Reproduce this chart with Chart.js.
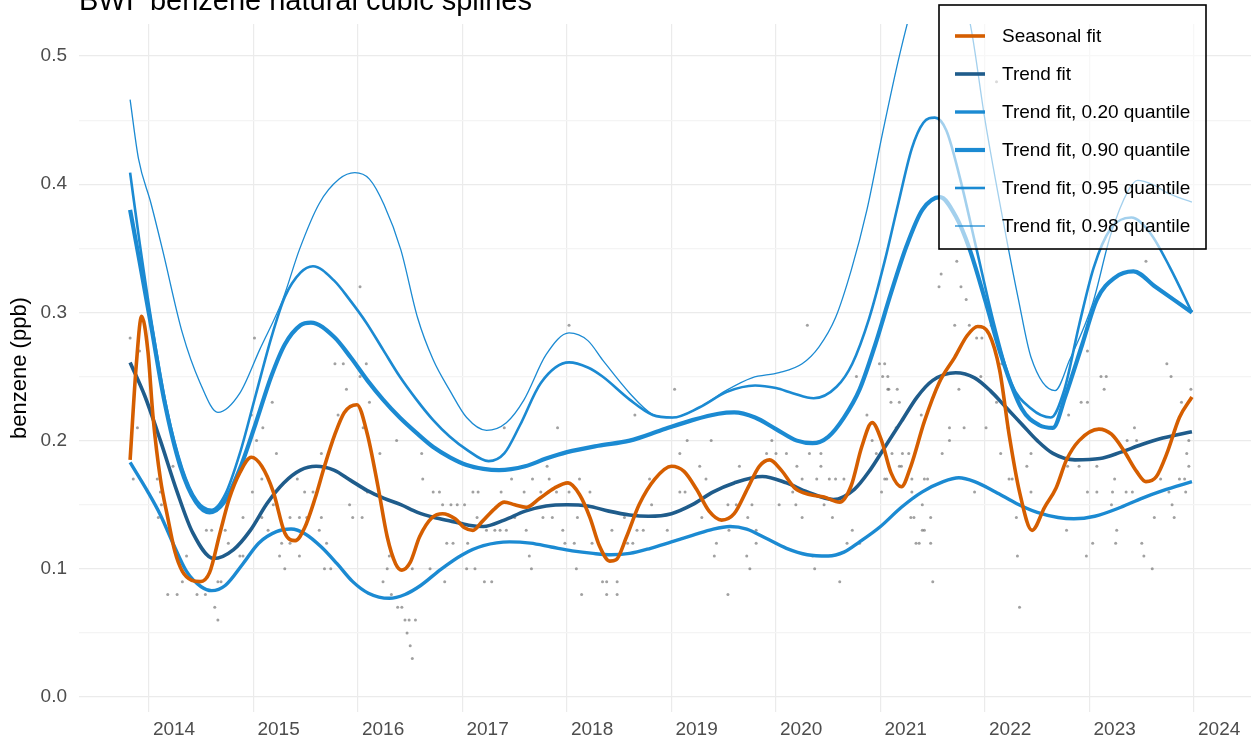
<!DOCTYPE html>
<html>
<head>
<meta charset="utf-8">
<title>BWI benzene natural cubic splines</title>
<script src="https://cdn.jsdelivr.net/npm/chart.js@4.4.1/dist/chart.umd.min.js"></script>
<style>
  html, body { margin: 0; padding: 0; background: #fff; }
  #wrap { position: relative; width: 1255px; height: 744px; }
</style>
</head>
<body>
<div id="wrap"><canvas id="chart"></canvas></div>
<script>
// BWI benzene - seasonal / trend natural cubic spline fits

const chartTitle = 'BWI  benzene natural cubic splines';
const yAxisTitle = 'benzene (ppb)';

const yearTicks = [2014, 2015, 2016, 2017, 2018, 2019, 2020, 2021, 2022, 2023, 2024];
const yTicks = [0.0, 0.05, 0.1, 0.15, 0.2, 0.25, 0.3, 0.35, 0.4, 0.45, 0.5];

// [decimal year, ppb]
const seasonalFit = [[2013.82,0.185],[2013.88,0.26],[2013.93,0.297],[2013.99,0.27],[2014.04,0.218],[2014.11,0.17],[2014.18,0.14],[2014.25,0.113],[2014.32,0.098],[2014.41,0.091],[2014.49,0.09],[2014.58,0.097],[2014.68,0.128],[2014.77,0.155],[2014.87,0.175],[2014.98,0.187],[2015.08,0.18],[2015.19,0.16],[2015.30,0.128],[2015.40,0.122],[2015.49,0.132],[2015.59,0.155],[2015.68,0.18],[2015.78,0.205],[2015.87,0.222],[2015.99,0.228],[2016.09,0.205],[2016.19,0.165],[2016.28,0.125],[2016.36,0.104],[2016.42,0.099],[2016.50,0.105],[2016.59,0.125],[2016.71,0.14],[2016.81,0.143],[2016.93,0.139],[2017.02,0.132],[2017.10,0.13],[2017.19,0.137],[2017.31,0.147],[2017.40,0.152],[2017.50,0.15],[2017.61,0.148],[2017.74,0.155],[2017.88,0.163],[2018.01,0.167],[2018.12,0.158],[2018.22,0.14],[2018.31,0.118],[2018.41,0.106],[2018.47,0.107],[2018.57,0.125],[2018.69,0.15],[2018.84,0.17],[2019.00,0.18],[2019.12,0.176],[2019.24,0.162],[2019.36,0.145],[2019.48,0.138],[2019.60,0.143],[2019.73,0.163],[2019.84,0.18],[2019.94,0.185],[2020.05,0.177],[2020.18,0.163],[2020.32,0.158],[2020.46,0.156],[2020.61,0.152],[2020.72,0.165],[2020.82,0.195],[2020.92,0.214],[2021.01,0.2],[2021.10,0.175],[2021.20,0.164],[2021.29,0.18],[2021.42,0.215],[2021.56,0.245],[2021.71,0.265],[2021.83,0.282],[2021.93,0.289],[2022.04,0.283],[2022.14,0.255],[2022.23,0.205],[2022.33,0.16],[2022.45,0.13],[2022.57,0.148],[2022.68,0.163],[2022.78,0.185],[2022.90,0.2],[2023.09,0.209],[2023.21,0.205],[2023.33,0.192],[2023.45,0.176],[2023.54,0.168],[2023.64,0.172],[2023.74,0.19],[2023.86,0.218],[2023.98,0.234]];

const trendFit = [[2013.82,0.261],[2013.96,0.235],[2014.11,0.2],[2014.27,0.16],[2014.42,0.128],[2014.62,0.108],[2014.81,0.115],[2014.97,0.13],[2015.13,0.151],[2015.29,0.167],[2015.45,0.177],[2015.60,0.18],[2015.77,0.177],[2015.93,0.169],[2016.09,0.161],[2016.25,0.155],[2016.41,0.15],[2016.57,0.144],[2016.73,0.14],[2016.90,0.137],[2017.06,0.134],[2017.20,0.133],[2017.40,0.138],[2017.60,0.145],[2017.80,0.149],[2018.00,0.15],[2018.20,0.149],[2018.40,0.145],[2018.60,0.142],[2018.78,0.141],[2019.00,0.143],[2019.20,0.15],[2019.40,0.16],[2019.60,0.167],[2019.87,0.172],[2020.10,0.167],[2020.30,0.16],[2020.55,0.154],[2020.75,0.162],[2020.90,0.177],[2021.05,0.196],[2021.20,0.215],[2021.35,0.234],[2021.50,0.247],[2021.72,0.253],[2021.90,0.249],[2022.05,0.239],[2022.20,0.226],[2022.35,0.213],[2022.50,0.2],[2022.65,0.19],[2022.86,0.185],[2023.10,0.186],[2023.30,0.191],[2023.50,0.197],[2023.70,0.202],[2023.98,0.207]];

const q20Fit = [[2013.82,0.183],[2013.99,0.16],[2014.11,0.142],[2014.23,0.12],[2014.36,0.098],[2014.50,0.086],[2014.60,0.083],[2014.73,0.087],[2014.90,0.104],[2015.05,0.12],[2015.22,0.129],[2015.36,0.131],[2015.50,0.127],[2015.65,0.117],[2015.80,0.104],[2015.95,0.09],[2016.10,0.081],[2016.30,0.077],[2016.45,0.08],[2016.60,0.087],[2016.80,0.1],[2017.00,0.111],[2017.20,0.118],[2017.45,0.121],[2017.65,0.12],[2017.85,0.117],[2018.05,0.114],[2018.25,0.112],[2018.42,0.111],[2018.60,0.112],[2018.80,0.116],[2019.00,0.121],[2019.20,0.126],[2019.40,0.131],[2019.56,0.133],[2019.72,0.131],[2019.90,0.124],[2020.10,0.116],[2020.30,0.111],[2020.50,0.11],[2020.65,0.113],[2020.80,0.121],[2021.00,0.133],[2021.20,0.148],[2021.40,0.16],[2021.60,0.168],[2021.75,0.171],[2021.90,0.168],[2022.10,0.16],[2022.30,0.151],[2022.50,0.144],[2022.70,0.14],[2022.85,0.139],[2023.05,0.141],[2023.30,0.148],[2023.50,0.155],[2023.70,0.161],[2023.98,0.168]];

const q90Fit = [[2013.82,0.38],[2013.91,0.34],[2014.02,0.29],[2014.15,0.23],[2014.30,0.18],[2014.45,0.152],[2014.58,0.144],[2014.72,0.152],[2014.87,0.178],[2015.02,0.213],[2015.17,0.25],[2015.30,0.275],[2015.45,0.29],[2015.55,0.292],[2015.77,0.281],[2015.93,0.265],[2016.09,0.247],[2016.24,0.232],[2016.40,0.218],[2016.56,0.206],[2016.72,0.195],[2016.88,0.187],[2017.04,0.181],[2017.20,0.178],[2017.35,0.177],[2017.60,0.18],[2017.80,0.186],[2018.00,0.191],[2018.30,0.196],[2018.60,0.2],[2018.90,0.208],[2019.20,0.216],[2019.45,0.221],[2019.60,0.222],[2019.80,0.218],[2020.00,0.209],[2020.20,0.2],[2020.35,0.198],[2020.50,0.203],[2020.65,0.218],[2020.80,0.24],[2020.95,0.275],[2021.10,0.315],[2021.25,0.352],[2021.40,0.38],[2021.57,0.39],[2021.72,0.375],[2021.85,0.35],[2022.00,0.31],[2022.16,0.265],[2022.35,0.225],[2022.52,0.212],[2022.65,0.21],[2022.77,0.235],[2022.93,0.275],[2023.07,0.31],[2023.24,0.327],[2023.42,0.332],[2023.63,0.32],[2023.98,0.30]];

const q95Fit = [[2013.82,0.409],[2013.91,0.355],[2014.04,0.285],[2014.17,0.225],[2014.32,0.178],[2014.46,0.153],[2014.60,0.146],[2014.73,0.158],[2014.87,0.19],[2015.02,0.235],[2015.17,0.28],[2015.30,0.312],[2015.45,0.331],[2015.57,0.336],[2015.77,0.325],[2015.92,0.31],[2016.08,0.292],[2016.24,0.271],[2016.40,0.25],[2016.56,0.232],[2016.72,0.216],[2016.88,0.203],[2017.04,0.193],[2017.25,0.184],[2017.40,0.19],[2017.55,0.212],[2017.75,0.245],[2018.02,0.261],[2018.20,0.257],[2018.34,0.25],[2018.60,0.232],[2018.82,0.22],[2019.01,0.218],[2019.27,0.226],[2019.53,0.238],[2019.80,0.243],[2020.00,0.241],[2020.16,0.237],[2020.36,0.233],[2020.58,0.242],[2020.73,0.26],[2020.89,0.295],[2021.04,0.34],[2021.17,0.385],[2021.30,0.428],[2021.41,0.448],[2021.52,0.452],[2021.63,0.442],[2021.76,0.405],[2021.92,0.349],[2022.09,0.29],[2022.25,0.245],[2022.44,0.225],[2022.63,0.218],[2022.76,0.24],[2022.90,0.29],[2023.04,0.335],[2023.20,0.365],[2023.40,0.374],[2023.58,0.362],[2023.77,0.335],[2023.98,0.30]];

const q98Fit = [[2013.82,0.466],[2013.90,0.42],[2014.02,0.385],[2014.13,0.349],[2014.32,0.284],[2014.49,0.245],[2014.66,0.222],[2014.87,0.237],[2015.06,0.271],[2015.28,0.31],[2015.44,0.349],[2015.63,0.385],[2015.82,0.404],[2015.97,0.409],[2016.11,0.404],[2016.25,0.384],[2016.41,0.349],[2016.57,0.296],[2016.72,0.263],[2016.88,0.239],[2017.04,0.218],[2017.23,0.208],[2017.42,0.214],[2017.59,0.232],[2017.80,0.267],[2018.02,0.284],[2018.20,0.278],[2018.34,0.263],[2018.60,0.237],[2018.81,0.221],[2019.01,0.218],[2019.27,0.226],[2019.52,0.239],[2019.77,0.249],[2020.03,0.253],[2020.25,0.26],[2020.41,0.273],[2020.57,0.296],[2020.72,0.333],[2020.87,0.38],[2021.02,0.44],[2021.18,0.5],[2021.34,0.55],[2021.52,0.59],[2021.70,0.58],[2021.87,0.52],[2022.00,0.45],[2022.20,0.36],[2022.32,0.31],[2022.44,0.265],[2022.67,0.239],[2022.81,0.263],[2023.03,0.307],[2023.20,0.36],[2023.37,0.395],[2023.46,0.403],[2023.60,0.40],[2023.75,0.393],[2023.98,0.386]];

// individual samples (grey dots)
const samples = [
  [2013.82,0.28],[2013.91,0.27],[2013.89,0.21],[2013.85,0.17],[2014.01,0.25],[2014.08,0.17],[2014.11,0.16],[2014.12,0.15],[2014.09,0.14],
  [2014.23,0.18],[2014.32,0.09],[2014.18,0.08],[2014.27,0.08],[2014.36,0.11],[2014.46,0.08],[2014.54,0.08],[2014.55,0.13],[2014.60,0.13],[2014.63,0.07],
  [2014.66,0.06],[2014.66,0.09],[2014.69,0.09],[2014.73,0.13],[2014.76,0.12],[2014.87,0.11],[2014.90,0.11],[2014.90,0.14],[2015.01,0.28],[2015.03,0.20],
  [2014.98,0.22],[2015.09,0.21],[2015.08,0.17],[2014.99,0.16],[2015.08,0.14],[2015.18,0.23],[2015.19,0.15],[2015.14,0.13],[2015.22,0.19],[2015.27,0.12],
  [2015.35,0.12],[2015.25,0.11],[2015.30,0.10],[2015.42,0.17],[2015.35,0.14],[2015.44,0.14],[2015.51,0.14],[2015.44,0.11],[2015.49,0.16],[2015.57,0.16],
  [2015.63,0.13],[2015.65,0.19],[2015.65,0.14],[2015.70,0.12],[2015.68,0.10],[2015.74,0.10],[2015.78,0.26],[2015.86,0.26],[2015.81,0.22],[2015.89,0.24],
  [2015.92,0.15],[2015.95,0.14],[2016.04,0.14],[2016.02,0.25],[2016.02,0.32],[2016.05,0.21],[2016.08,0.26],[2016.09,0.16],[2016.11,0.23],[2016.21,0.19],
  [2016.24,0.09],[2016.28,0.10],[2016.30,0.11],[2016.32,0.08],[2016.37,0.20],[2016.38,0.07],[2016.42,0.07],[2016.45,0.06],[2016.49,0.06],[2016.55,0.06],
  [2016.47,0.05],[2016.50,0.04],[2016.52,0.03],[2016.52,0.10],[2016.61,0.19],[2016.62,0.17],[2016.69,0.10],[2016.72,0.16],[2016.78,0.16],[2016.83,0.09],
  [2016.81,0.15],[2016.89,0.15],[2016.95,0.15],[2017.02,0.15],[2016.85,0.12],[2016.91,0.12],[2017.04,0.10],[2017.05,0.12],[2017.12,0.10],[2017.10,0.16],
  [2017.15,0.16],[2017.14,0.14],[2017.21,0.09],[2017.28,0.09],[2017.23,0.13],[2017.31,0.13],[2017.36,0.13],[2017.37,0.16],[2017.40,0.21],[2017.42,0.13],
  [2017.47,0.17],[2017.50,0.14],
  [2018.02,0.29],[2017.91,0.21],[2017.81,0.18],[2017.67,0.17],[2017.83,0.17],[2017.59,0.16],[2017.75,0.16],[2017.82,0.16],[2017.90,0.16],[2018.02,0.16],
  [2018.12,0.17],[2018.22,0.16],[2017.67,0.15],[2017.61,0.13],[2017.77,0.14],[2017.86,0.14],[2017.96,0.13],[2017.98,0.12],[2018.07,0.12],[2018.10,0.14],
  [2018.24,0.12],[2017.64,0.11],[2017.66,0.10],[2018.09,0.10],[2018.14,0.08],[2018.34,0.09],[2018.38,0.09],[2018.48,0.09],[2018.38,0.08],[2018.48,0.08],
  [2018.43,0.13],[2018.55,0.14],[2018.58,0.12],[2018.63,0.12],[2018.65,0.22],[2018.67,0.13],[2018.73,0.13],[2018.81,0.15],[2018.79,0.17],[2018.96,0.13],
  [2019.03,0.24],[2019.08,0.16],[2019.13,0.16],[2019.08,0.19],[2019.15,0.20],[2019.27,0.18],[2019.29,0.14],[2019.33,0.17],[2019.38,0.20],[2019.43,0.12],
  [2019.41,0.11],[2019.54,0.15],[2019.62,0.15],[2019.54,0.08],[2019.55,0.13],[2019.65,0.18],[2019.72,0.11],[2019.73,0.14],[2019.75,0.10],[2019.77,0.15],
  [2019.81,0.13],[2019.81,0.12],[2019.91,0.19],[2019.96,0.20],[2020.00,0.19],[2020.00,0.12],[2020.03,0.15],[2020.10,0.19],[2020.16,0.16],[2020.19,0.15],
  [2020.20,0.18],[2020.25,0.17],[2020.25,0.14],[2020.32,0.19],[2020.35,0.11],[2020.37,0.10],[2020.39,0.17],[2020.43,0.18],[2020.43,0.19],[2020.46,0.15],
  [2020.51,0.17],[2020.57,0.17],[2020.54,0.14],[2020.61,0.09],[2020.65,0.17],[2020.68,0.12],[2020.73,0.13],[2020.77,0.25],[2020.80,0.12],[2020.87,0.22],
  [2020.92,0.20],[2020.96,0.19],[2020.99,0.26],[2021.07,0.24],[2021.16,0.24],[2021.06,0.17],[2021.15,0.21],[2021.20,0.18],[2021.21,0.19],[2021.25,0.17],
  [2021.29,0.14],[2021.34,0.12],[2021.37,0.12],[2021.42,0.13],[2021.45,0.17],[2020.30,0.29],
  [2021.73,0.34],[2021.58,0.33],[2021.56,0.32],[2021.77,0.32],[2021.82,0.31],[2021.71,0.29],[2021.85,0.29],[2022.06,0.29],[2021.92,0.28],[2021.97,0.28],
  [2021.04,0.26],[2021.02,0.25],[2021.07,0.25],[2021.96,0.25],[2022.16,0.26],[2021.08,0.24],[2021.18,0.23],[2021.75,0.24],[2021.10,0.23],[2021.39,0.22],
  [2021.66,0.21],[2021.80,0.21],[2022.01,0.21],[2022.22,0.21],[2021.66,0.20],[2021.59,0.19],[2021.11,0.19],[2021.27,0.19],[2021.18,0.18],[2021.04,0.17],
  [2021.30,0.17],[2021.42,0.17],[2021.01,0.16],[2021.30,0.16],[2021.40,0.15],[2021.32,0.14],[2021.48,0.14],[2021.40,0.13],[2021.48,0.12],[2021.50,0.09],
  [2021.90,0.16],[2022.15,0.19],[2022.23,0.17],[2022.26,0.17],[2022.11,0.23],[2022.30,0.14],[2022.31,0.11],[2022.33,0.07],[2022.44,0.16],[2022.40,0.18],
  [2022.44,0.19],[2022.78,0.13],[2022.79,0.18],[2022.90,0.18],[2022.80,0.22],[2022.92,0.23],[2022.98,0.23],[2022.98,0.27],[2022.97,0.11],[2023.03,0.12],
  [2022.98,0.16],[2023.07,0.16],[2023.07,0.18],[2023.11,0.25],[2023.16,0.25],[2023.14,0.24],[2023.22,0.16],[2023.24,0.17],[2023.25,0.12],[2023.26,0.13],
  [2023.21,0.15],[2023.35,0.16],[2023.41,0.16],[2023.36,0.20],[2023.45,0.20],[2023.43,0.21],[2023.50,0.12],[2023.52,0.11],[2023.60,0.10],[2023.54,0.34],
  [2023.62,0.14],[2023.68,0.17],[2023.74,0.26],[2023.78,0.25],[2023.79,0.15],[2023.81,0.14],[2023.76,0.16],[2023.86,0.17],[2023.91,0.17],[2023.93,0.19],
  [2023.95,0.18],[2023.97,0.24],[2023.95,0.20],[2023.92,0.16],[2023.88,0.23],[2022.11,0.48]
];

const FONT = '"Liberation Sans", Arial, Helvetica, sans-serif';
const orange = '#d55e00';
const darkBlue = '#1f5c8b';
const quantBlue = '#1b8ad2';

const toXY = pairs => pairs.map(([x, y]) => ({ x: x, y: y }));

function fitLine(label, pairs, color, width) {
  return {
    label: label,
    data: toXY(pairs),
    borderColor: color,
    backgroundColor: color,
    borderWidth: width,
    pointRadius: 0,
    fill: false,
    cubicInterpolationMode: 'monotone',
    inLegend: true
  };
}

// title drawn at the very top, partly cut off like the source
const titlePlugin = {
  id: 'cutTitle',
  afterDraw(chart) {
    const c = chart.ctx;
    c.save();
    c.font = '29px ' + FONT;
    c.fillStyle = '#000';
    c.textBaseline = 'alphabetic';
    c.fillText(chartTitle, chart.chartArea.left, 10);
    c.restore();
  }
};

// boxed legend inside the panel, top right
const legendBox = {
  id: 'legendBox',
  afterDatasetsDraw(chart) {
    const c = chart.ctx;
    const left = 939, top = 5, w = 267, h = 244;
    c.save();
    c.fillStyle = 'rgba(255,255,255,0.6)';
    c.fillRect(left, top, w, h);
    c.strokeStyle = '#000';
    c.lineWidth = 1.6;
    c.strokeRect(left, top, w, h);
    const items = chart.data.datasets.filter(d => d.inLegend);
    items.forEach(function(d, i) {
      const y = 36 + i * 38;
      c.strokeStyle = d.borderColor;
      c.lineWidth = d.borderWidth;
      c.beginPath();
      c.moveTo(955, y);
      c.lineTo(985, y);
      c.stroke();
      c.fillStyle = '#000';
      c.font = '19px ' + FONT;
      c.textBaseline = 'middle';
      c.fillText(d.label, 1002, y + 1);
    });
    c.restore();
  }
};

Chart.defaults.font.family = FONT;

const ctx = document.getElementById('chart').getContext('2d');
new Chart(ctx, {
  type: 'line',
  data: {
    datasets: [
      fitLine('Seasonal fit', seasonalFit, orange, 3.6),
      fitLine('Trend fit', trendFit, darkBlue, 3.6),
      fitLine('Trend fit, 0.20 quantile', q20Fit, quantBlue, 3.4),
      fitLine('Trend fit, 0.90 quantile', q90Fit, quantBlue, 4.2),
      fitLine('Trend fit, 0.95 quantile', q95Fit, quantBlue, 2.6),
      fitLine('Trend fit, 0.98 quantile', q98Fit, quantBlue, 1.3),
      {
        label: 'samples',
        data: toXY(samples),
        showLine: false,
        pointRadius: 1.5,
        pointBorderWidth: 0,
        pointBackgroundColor: 'rgba(110,110,110,0.65)',
        inLegend: false
      }
    ]
  },
  options: {
    responsive: true,
    maintainAspectRatio: false,
    animation: false,
    layout: { padding: { top: 24, right: 3, bottom: 0, left: 0 } },
    scales: {
      x: {
        type: 'linear',
        min: 2013.331,
        max: 2024.545,
        afterBuildTicks: s => { s.ticks = yearTicks.map(v => ({ value: v })); },
        afterFit: s => { s.height = 32; },
        grid: { color: '#ebebeb', lineWidth: 1.2, drawTicks: false },
        border: { display: false },
        ticks: {
          align: 'start',
          labelOffset: 4,
          padding: 6,
          color: '#4d4d4d',
          font: { size: 19 },
          maxRotation: 0,
          autoSkip: false,
          callback: v => String(v)
        }
      },
      y: {
        min: -0.0117,
        max: 0.525,
        afterBuildTicks: s => { s.ticks = yTicks.map(v => ({ value: v })); },
        afterFit: s => { s.width = 79; },
        grid: {
          drawTicks: false,
          lineWidth: 1.2,
          color: c => (Math.round(c.tick.value * 100) % 10 === 0 ? '#ebebeb' : '#f4f4f4')
        },
        border: { display: false },
        ticks: {
          padding: 12,
          color: '#4d4d4d',
          font: { size: 19 },
          autoSkip: false,
          callback: v => (Math.round(v * 100) % 10 === 0 ? v.toFixed(1) : '')
        },
        title: {
          display: true,
          text: yAxisTitle,
          color: '#000',
          font: { size: 22 },
          padding: { top: 7, bottom: 0 }
        }
      }
    },
    plugins: {
      legend: { display: false },
      tooltip: { enabled: false }
    }
  },
  plugins: [titlePlugin, legendBox]
});
</script>
</body>
</html>
